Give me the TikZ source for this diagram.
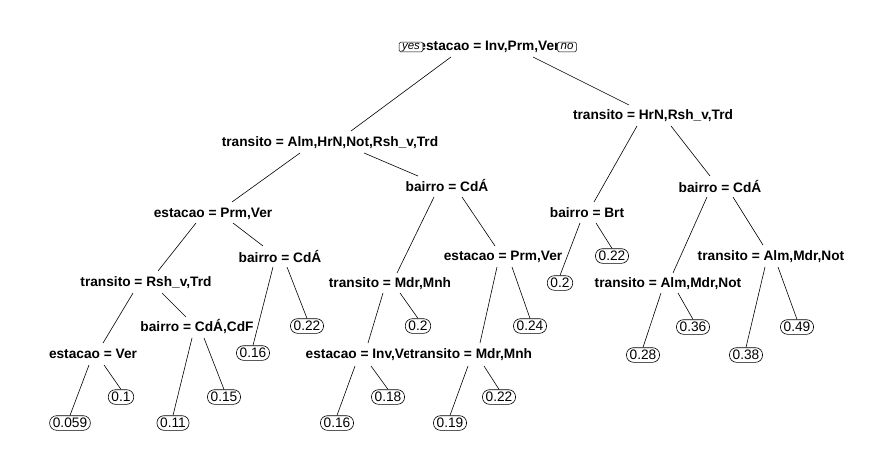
\documentclass[tikz,border=0pt]{standalone}
\usepackage{fontspec}
\setmainfont{Liberation Sans}
\usetikzlibrary{backgrounds}
\begin{document}
\begin{tikzpicture}[x=1pt,y=-1pt,
 split/.style={font=\fontsize{13.7}{16}\selectfont\bfseries, fill=white, inner sep=1pt, text height=10pt, text depth=3pt},
 leaf/.style={draw, rounded corners=7pt, font=\fontsize{13.7}{16}\selectfont, inner xsep=3.2pt, inner ysep=2.4pt, fill=white, line width=0.6pt, text height=9.8pt, text depth=0pt},
 edge/.style={line width=0.6pt},
 yn/.style={draw, rounded corners=1.5pt, font=\fontsize{11.5}{12}\selectfont\itshape, inner xsep=3pt, inner ysep=0.4pt, fill=white, line width=0.5pt, text height=6.6pt, text depth=2.4pt}]
\useasboundingbox (0,0) rectangle (886,468);
% split nodes
\node[split] (n0) at (489,47) {estacao = Inv,Prm,Ver};
\node[split] (nL) at (330,143) {transito = Alm,HrN,Not,Rsh\_v,Trd};
\node[split] (nR) at (653,116) {transito = HrN,Rsh\_v,Trd};
\node[split] (nLL) at (213,214) {estacao = Prm,Ver};
\node[split] (nLR) at (447,188) {bairro = CdÁ};
\node[split] (nLLL) at (146,283) {transito = Rsh\_v,Trd};
\node[split] (nLLR) at (280,259) {bairro = CdÁ};
\node[split] (nLLLL) at (93,355) {estacao = Ver};
\node[split] (nLLLR) at (197,328) {bairro = CdÁ,CdF};
\node[split] (nLRL) at (390,284) {transito = Mdr,Mnh};
\node[split] (nLRR) at (503,257) {estacao = Prm,Ver};
\node[split] (nLRLL) at (361,355) {estacao = Inv,Ver};
\node[split] (nLRRL) at (471,355) {transito = Mdr,Mnh};
\node[split] (nRL) at (587,214) {bairro = Brt};
\node[split] (nRR) at (720,189) {bairro = CdÁ};
\node[split] (nRRL) at (668,284) {transito = Alm,Mdr,Not};
\node[split] (nRRR) at (771,257) {transito = Alm,Mdr,Not};
% leaves
\node[leaf] (l1) at (70,423) {0.059};
\node[leaf] (l2) at (121,397) {0.1};
\node[leaf] (l3) at (173,423) {0.11};
\node[leaf] (l4) at (224,397) {0.15};
\node[leaf] (l5) at (253,353) {0.16};
\node[leaf] (l6) at (307,326) {0.22};
\node[leaf] (l7) at (337,423) {0.16};
\node[leaf] (l8) at (388,397) {0.18};
\node[leaf] (l9) at (418,326) {0.2};
\node[leaf] (l10) at (450,423) {0.19};
\node[leaf] (l11) at (499,397) {0.22};
\node[leaf] (l12) at (530,326) {0.24};
\node[leaf] (l13) at (560,283) {0.2};
\node[leaf] (l14) at (612,256) {0.22};
\node[leaf] (l15) at (643,355) {0.28};
\node[leaf] (l16) at (693,327) {0.36};
\node[leaf] (l17) at (746,355) {0.38};
\node[leaf] (l18) at (797,327) {0.49};
% yes / no
\node[yn] (yes) at (411,47) {yes};
\node[yn] (no) at (567,47) {no};
% edges
\begin{scope}[on background layer]
\draw[edge] ([shift={(-38,10)}]n0.center) -- ([shift={(21,-12)}]nL.center);
\draw[edge] ([shift={(44,10)}]n0.center) -- ([shift={(-24,-11)}]nR.center);
\draw[edge] ([shift={(-30,10)}]nL.center) -- ([shift={(19,-12)}]nLL.center);
\draw[edge] ([shift={(34,10)}]nL.center) -- ([shift={(-29,-12)}]nLR.center);
\draw[edge] ([shift={(-17,9)}]nLL.center) -- ([shift={(12,-12)}]nLLL.center);
\draw[edge] ([shift={(20,9)}]nLL.center) -- ([shift={(-17,-13)}]nLLR.center);
\draw[edge] ([shift={(-7,8)}]nLLR.center) -- (l5.north);
\draw[edge] ([shift={(7,8)}]nLLR.center) -- (l6.north);
\draw[edge] ([shift={(-13,10)}]nLLL.center) -- ([shift={(10,-12)}]nLLLL.center);
\draw[edge] ([shift={(16,10)}]nLLL.center) -- ([shift={(-11,-11)}]nLLLR.center);
\draw[edge] ([shift={(-4,10)}]nLLLL.center) -- (l1.north);
\draw[edge] ([shift={(11,10)}]nLLLL.center) -- (l2.north);
\draw[edge] ([shift={(-5,10)}]nLLLR.center) -- (l3.north);
\draw[edge] ([shift={(7,10)}]nLLLR.center) -- (l4.north);
\draw[edge] ([shift={(-13,9)}]nLR.center) -- ([shift={(7,-11)}]nLRL.center);
\draw[edge] ([shift={(15,9)}]nLR.center) -- ([shift={(-8,-11)}]nLRR.center);
\draw[edge] ([shift={(-7,9)}]nLRL.center) -- ([shift={(7,-12)}]nLRLL.center);
\draw[edge] ([shift={(10,9)}]nLRL.center) -- (l9.north);
\draw[edge] ([shift={(-6,10)}]nLRR.center) -- ([shift={(9,-12)}]nLRRL.center);
\draw[edge] ([shift={(9,10)}]nLRR.center) -- (l12.north);
\draw[edge] ([shift={(-6,11)}]nLRLL.center) -- (l7.north);
\draw[edge] ([shift={(10,11)}]nLRLL.center) -- (l8.north);
\draw[edge] ([shift={(-3,11)}]nLRRL.center) -- (l10.north);
\draw[edge] ([shift={(13,11)}]nLRRL.center) -- (l11.north);
\draw[edge] ([shift={(-16,10)}]nR.center) -- ([shift={(7,-12)}]nRL.center);
\draw[edge] ([shift={(18,10)}]nR.center) -- ([shift={(-10,-13)}]nRR.center);
\draw[edge] ([shift={(-7,9)}]nRL.center) -- (l13.north);
\draw[edge] ([shift={(9,9)}]nRL.center) -- (l14.north);
\draw[edge] ([shift={(-13,8)}]nRR.center) -- ([shift={(5,-11)}]nRRL.center);
\draw[edge] ([shift={(13,8)}]nRR.center) -- ([shift={(-8,-12)}]nRRR.center);
\draw[edge] ([shift={(-7,9)}]nRRL.center) -- (l15.north);
\draw[edge] ([shift={(10,9)}]nRRL.center) -- (l16.north);
\draw[edge] ([shift={(-6,10)}]nRRR.center) -- (l17.north);
\draw[edge] ([shift={(7,10)}]nRRR.center) -- (l18.north);
\end{scope}
\end{tikzpicture}
\end{document}
